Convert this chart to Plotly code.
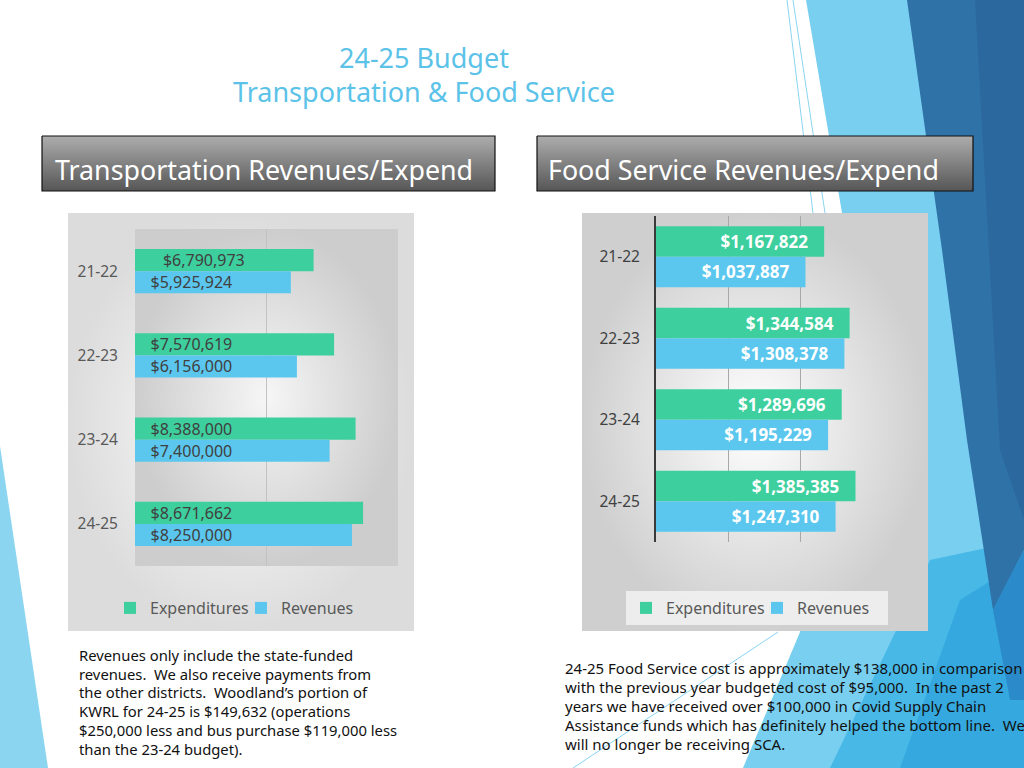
import plotly.graph_objects as go

W, H = 1024, 768

# ---------------- data ----------------
years = ["21-22", "22-23", "23-24", "24-25"]
series_names = ["Expenditures", "Revenues"]
transport_expenditures = [6790973, 7570619, 8388000, 8671662]
transport_revenues = [5925924, 6156000, 7400000, 8250000]
food_expenditures = [1167822, 1344584, 1289696, 1385385]
food_revenues = [1037887, 1308378, 1195229, 1247310]

title_lines = ["24-25 Budget", "Transportation & Food Service"]
header_left = "Transportation Revenues/Expend"
header_right = "Food Service Revenues/Expend"
note_left = [
    "Revenues only include the state-funded",
    "revenues.  We also receive payments from",
    "the other districts.  Woodland\u2019s portion of",
    "KWRL for 24-25 is $149,632 (operations",
    "$250,000 less and bus purchase $119,000 less",
    "than the 23-24 budget).",
]
note_right = [
    "24-25 Food Service cost is approximately $138,000 in comparison",
    "with the previous year budgeted cost of $95,000.  In the past 2",
    "years we have received over $100,000 in Covid Supply Chain",
    "Assistance funds which has definitely helped the bottom line.  We",
    "will no longer be receiving SCA.",
]

# ---------------- style ----------------
FONT = "Noto Sans"
GREEN = "#3ECF9E"
BLUE = "#5BC7EE"
TITLE_BLUE = "#5BC2E8"
NBSP = "\u00a0"


def px(x):
    return x / W


def py(y):
    return 1 - y / H


def money(v):
    return "${:,.0f}".format(v)


fig = go.Figure()


def poly(pts, color=None, gradient=None, line_color=None, line_width=0):
    xs = [p[0] for p in pts] + [pts[0][0]]
    ys = [p[1] for p in pts] + [pts[0][1]]
    kw = dict(
        x=xs, y=ys, xaxis="x", yaxis="y", mode="lines", fill="toself",
        hoverinfo="skip", showlegend=False,
        line=dict(color=line_color or "rgba(0,0,0,0)", width=line_width),
    )
    if gradient is not None:
        kw["fillgradient"] = gradient
    else:
        kw["fillcolor"] = color
    fig.add_trace(go.Scatter(**kw))


def seg(p0, p1, color, width=1):
    fig.add_trace(go.Scatter(
        x=[p0[0], p1[0]], y=[p0[1], p1[1]], xaxis="x", yaxis="y", mode="lines",
        line=dict(color=color, width=width), hoverinfo="skip", showlegend=False))


# ---------------- decorative background (slide theme) ----------------
poly([(0, 446), (48, 768), (0, 768)], "#8CD5F1")
poly([(806, 0), (1024, 0), (1024, 768), (743, 768), (800, 632), (842, 213)], "#79CFF0")
poly([(830, 768), (930, 560), (1024, 540), (1024, 768)], "#48B8E7")
poly([(900, 768), (960, 600), (1024, 560), (1024, 768)], "#35A9DF")
poly([(907, 0), (1024, 0), (1024, 550), (993, 610), (967, 440), (942, 250)], "#2F72A8")
poly([(975, 0), (1024, 0), (1024, 520), (1000, 450)], "#2B689D")
poly([(1024, 550), (993, 610), (1010, 700), (1024, 700)], "#2B8ACA")
seg((787, 0), (813, 213), "#8AD4F1", 1)
seg((793, 0), (825, 213), "#8AD4F1", 1)
seg((573, 768), (778, 632), "#8AD4F1", 1)

# ---------------- header boxes ----------------
hdr_grad = dict(type="vertical", start=136, stop=191,
                colorscale=[[0, "#ADADAD"], [1, "#565656"]])
poly([(42, 136), (495, 136), (495, 191), (42, 191)], gradient=hdr_grad,
     line_color="#111111", line_width=1.2)
poly([(537, 136), (973, 136), (973, 191), (537, 191)], gradient=hdr_grad,
     line_color="#111111", line_width=1.2)

# ---------------- chart panels ----------------
poly([(68, 213), (414, 213), (414, 631), (68, 631)],
     gradient=dict(type="radial", colorscale=[[0, "#FFFFFF"], [1, "#DCDCDC"]]))
poly([(135, 229), (398, 229), (398, 566), (135, 566)],
     gradient=dict(type="radial", colorscale=[[0, "#F6F6F6"], [1, "#CDCDCD"]]))
poly([(582, 213), (928, 213), (928, 631), (582, 631)],
     gradient=dict(type="radial", colorscale=[[0, "#FFFFFF"], [1, "#CFCFCF"]]))

# ---------------- transportation chart ----------------
t_exp_text = [(NBSP * (6 if i == 0 else 3)) + money(v) for i, v in enumerate(transport_expenditures)]
t_rev_text = [(NBSP * 3) + money(v) for v in transport_revenues]
tw = 0.262
lbl_font_t = dict(family=FONT, size=16, color="#404040")
fig.add_trace(go.Bar(
    y=years, x=transport_expenditures, orientation="h", name=series_names[0],
    xaxis="x2", yaxis="y2", marker=dict(color=GREEN, line=dict(width=0)),
    width=tw, offset=-tw, text=t_exp_text, textposition="inside",
    insidetextanchor="start", textfont=lbl_font_t, insidetextfont=lbl_font_t,
    constraintext="none", textangle=0, hoverinfo="skip", legend="legend"))
fig.add_trace(go.Bar(
    y=years, x=transport_revenues, orientation="h", name=series_names[1],
    xaxis="x2", yaxis="y2", marker=dict(color=BLUE, line=dict(width=0)),
    width=tw, offset=0, text=t_rev_text, textposition="inside",
    insidetextanchor="start", textfont=lbl_font_t, insidetextfont=lbl_font_t,
    constraintext="none", textangle=0, hoverinfo="skip", legend="legend"))

# ---------------- food service chart ----------------
f_exp_text = [money(v) + NBSP * 3 for v in food_expenditures]
f_rev_text = [money(v) + NBSP * 3 for v in food_revenues]
fw = 0.374
lbl_font_f = dict(family=FONT, size=17, color="#FFFFFF", weight="bold")
fig.add_trace(go.Bar(
    y=years, x=food_expenditures, orientation="h", name=series_names[0],
    xaxis="x3", yaxis="y3", marker=dict(color=GREEN, line=dict(width=0)),
    width=fw, offset=-fw, text=f_exp_text, textposition="inside",
    insidetextanchor="end", textfont=lbl_font_f, insidetextfont=lbl_font_f,
    constraintext="none", textangle=0, hoverinfo="skip", legend="legend2"))
fig.add_trace(go.Bar(
    y=years, x=food_revenues, orientation="h", name=series_names[1],
    xaxis="x3", yaxis="y3", marker=dict(color=BLUE, line=dict(width=0)),
    width=fw, offset=0, text=f_rev_text, textposition="inside",
    insidetextanchor="end", textfont=lbl_font_f, insidetextfont=lbl_font_f,
    constraintext="none", textangle=0, hoverinfo="skip", legend="legend2"))

# ---------------- annotations ----------------
ann = []
for line, yc in zip(title_lines, [57, 91]):
    ann.append(dict(text=line, x=px(424), y=py(yc), xref="paper", yref="paper",
                    xanchor="center", yanchor="middle", showarrow=False,
                    font=dict(family=FONT, size=27, color=TITLE_BLUE)))
ann.append(dict(text=header_left, x=px(53), y=py(170), xref="paper", yref="paper",
                xanchor="left", yanchor="middle", showarrow=False,
                font=dict(family=FONT, size=26.8, color="#FFFFFF")))
ann.append(dict(text=header_right, x=px(546), y=py(170), xref="paper", yref="paper",
                xanchor="left", yanchor="middle", showarrow=False,
                font=dict(family=FONT, size=26.8, color="#FFFFFF")))
for line, yc in zip(note_left, [655, 674, 692, 711, 730, 749]):
    ann.append(dict(text=line, x=px(77), y=py(yc), xref="paper", yref="paper",
                    xanchor="left", yanchor="middle", showarrow=False,
                    font=dict(family=FONT, size=14.8, color="#111111")))
for line, yc in zip(note_right, [668, 687, 706, 725, 744]):
    ann.append(dict(text=line, x=px(563), y=py(yc), xref="paper", yref="paper",
                    xanchor="left", yanchor="middle", showarrow=False,
                    font=dict(family=FONT, size=15, color="#111111")))

# ---------------- layout ----------------
fig.update_layout(
    width=W, height=H, margin=dict(l=0, r=0, t=0, b=0),
    paper_bgcolor="#FFFFFF", plot_bgcolor="rgba(0,0,0,0)",
    barmode="overlay", showlegend=True,
    xaxis=dict(domain=[0, 1], range=[0, W], visible=False, fixedrange=True),
    yaxis=dict(domain=[0, 1], range=[H, 0], visible=False, fixedrange=True),
    xaxis2=dict(domain=[px(135), px(398)], range=[0, 1e7], anchor="y2",
                tickvals=[5e6], showticklabels=False, showgrid=True,
                gridcolor="#C2C2C2", gridwidth=1, zeroline=False, showline=False,
                ticks=""),
    yaxis2=dict(domain=[py(566), py(229)], range=[3.5, -0.5], anchor="x2",
                type="category", categoryorder="array", categoryarray=years,
                showgrid=False, zeroline=False, showline=False, ticks="",
                ticklabelstandoff=16,
                tickfont=dict(family=FONT, size=15.5, color="#595959")),
    xaxis3=dict(domain=[px(656), px(872)], range=[0, 1.5e6], anchor="y3",
                tickvals=[5e5, 1e6, 1.5e6], showticklabels=False, showgrid=True,
                gridcolor="#A8A8A8", gridwidth=1, zeroline=False, showline=False,
                ticks=""),
    yaxis3=dict(domain=[py(542), py(216)], range=[3.5, -0.5], anchor="x3",
                type="category", categoryorder="array", categoryarray=years,
                showgrid=False, zeroline=False, showline=True,
                linecolor="#3A3A3A", linewidth=2, ticks="",
                ticklabelstandoff=11,
                tickfont=dict(family=FONT, size=15.5, color="#404040")),
    legend=dict(x=px(110), y=py(608), xanchor="left", yanchor="middle",
                orientation="h", bgcolor="rgba(0,0,0,0)", itemwidth=30,
                entrywidth=86, entrywidthmode="pixels",
                font=dict(family=FONT, size=16, color="#595959")),
    legend2=dict(x=px(626), y=py(608), xanchor="left", yanchor="middle",
                 orientation="h", bgcolor="rgba(242,242,242,0.85)", itemwidth=30,
                 entrywidth=86, entrywidthmode="pixels",
                 font=dict(family=FONT, size=16, color="#595959")),
    annotations=ann,
)

fig.write_html("out.html",
               config={"displayModeBar": False},
               post_script="document.body.style.margin='0px';"
                           "document.body.style.overflow='hidden';")
